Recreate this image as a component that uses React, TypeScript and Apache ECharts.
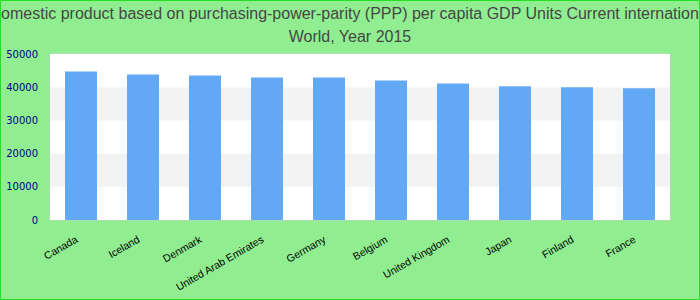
import React, { useEffect, useRef } from "react";
import * as echarts from "echarts";

const titleLines = [
  "Gross domestic product based on purchasing-power-parity (PPP) per capita GDP Units Current international dollar",
  "World, Year 2015",
];
const countries = [
  "Canada",
  "Iceland",
  "Denmark",
  "United Arab Emirates",
  "Germany",
  "Belgium",
  "United Kingdom",
  "Japan",
  "Finland",
  "France",
];
const gdpValues = [44750, 43850, 43550, 42950, 42950, 42050, 41150, 40250, 39950, 39650];

export default function App() {
  const ref = useRef<HTMLDivElement>(null);
  useEffect(() => {
    if (!ref.current) return;
    const chart = echarts.init(ref.current, null, { renderer: "svg" });
    chart.setOption({
      animation: false,
      backgroundColor: "#90ee90",
      title: {
        text: titleLines.join("\n"),
        left: "center",
        top: 2,
        padding: 0,
        textStyle: {
          fontFamily: "Liberation Sans, Arial, sans-serif",
          fontSize: 16,
          fontWeight: "normal",
          color: "#464646",
          lineHeight: 23,
        },
      },
      graphic: [
        {
          type: "rect",
          shape: { x: 0.5, y: 0.5, width: 699, height: 299 },
          style: { fill: "none", stroke: "#22e022", lineWidth: 1 },
          z: 100,
        },
      ],
      grid: {
        left: 50,
        right: 30,
        top: 54,
        bottom: 80,
        show: true,
        backgroundColor: "#ffffff",
        borderColor: "#cccccc",
        borderWidth: 1,
      },
      xAxis: {
        type: "category",
        data: countries,
        axisLine: { show: false },
        axisTick: { show: false },
        axisLabel: {
          rotate: 30,
          interval: 0,
          margin: 16,
          padding: [0, 5, 0, 0],
          fontSize: 10.5,
          fontFamily: "Liberation Sans, Arial, sans-serif",
          color: "#000000",
        },
      },
      yAxis: {
        type: "value",
        min: 0,
        max: 50000,
        interval: 10000,
        axisLine: { show: false },
        axisTick: { show: false },
        splitLine: { show: false },
        splitArea: { show: true, areaStyle: { color: ["#ffffff", "#f3f3f3"] } },
        axisLabel: {
          margin: 12,
          fontSize: 10,
          fontFamily: "DejaVu Sans, sans-serif",
          color: "#00008b",
          formatter: (v: number) => String(v),
        },
      },
      series: [
        {
          type: "bar",
          data: gdpValues,
          barWidth: 32,
          itemStyle: { color: "#62a8f4" },
        },
      ],
    });
    return () => chart.dispose();
  }, []);
  return (
    <div
      ref={ref}
      style={{ position: "fixed", left: 0, top: 0, width: 700, height: 300 }}
    />
  );
}
